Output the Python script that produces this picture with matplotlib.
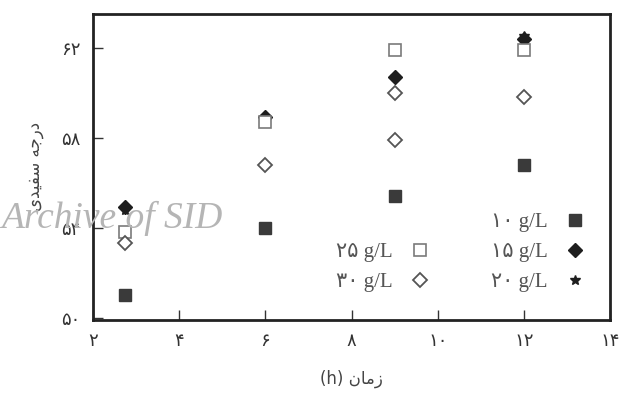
import matplotlib.pyplot as plt
from matplotlib.lines import Line2D

# data (hours vs whiteness)
hours = [2.75, 6, 9, 12]
conc_10 = [51.0, 54.0, 55.4, 56.8]
conc_15 = [54.9, 58.9, 60.7, 62.4]
conc_20 = [54.8, 58.9, 60.7, 62.5]
conc_25 = [53.8, 58.7, 61.9, 61.9]
hours_30 = [2.75, 6, 9, 9, 12]
conc_30 = [53.3, 56.8, 60.0, 57.9, 59.8]

fa_digits = str.maketrans('0123456789', '۰۱۲۳۴۵۶۷۸۹')
def fa(n):
    return str(n).translate(fa_digits)

x_ticks = [2, 4, 6, 8, 10, 12, 14]
y_ticks = [50, 54, 58, 62]

# Arabic script pre-shaped (presentation forms, visual order)
x_label = '(h) \ufee5\ufe8e\ufee3\ufeaf'
y_label = '\ufeef\ufeaa\ufef4\ufed4\ufeb3 \ufeea\ufe9f\ufead\ufea9'

dark = '#3a3a3a'
light = '#7a7a7a'

fig = plt.figure(figsize=(6.2, 3.96), dpi=100)
ax = fig.add_axes([0.150, 0.192, 0.834, 0.773])

ax.plot(hours, conc_10, 's', ms=9, color=dark, mec=dark, label=fa(10) + ' g/L')
ax.plot(hours, conc_15, 'D', ms=7, color='#1e1e1e', mec='#1e1e1e', label=fa(15) + ' g/L')
ax.plot(hours, conc_20, '*', ms=7, color='#1e1e1e', mec='#1e1e1e', label=fa(20) + ' g/L')
ax.plot(hours, conc_25, 's', ms=9, mfc='white', mec=light, mew=1.2, label=fa(25) + ' g/L')
ax.plot(hours_30, conc_30, 'D', ms=7, mfc='white', mec='#555555', mew=1.3, label=fa(30) + ' g/L')

ax.set_xlim(2, 14)
ax.set_ylim(49.9, 63.5)
ax.set_xticks(x_ticks)
ax.set_xticklabels([fa(t) for t in x_ticks])
ax.set_yticks(y_ticks)
ax.set_yticklabels([fa(t) for t in y_ticks])
ax.tick_params(direction='in', length=7, width=1, colors='#333333', labelsize=13, pad=9)
for s in ax.spines.values():
    s.set_linewidth(2)
    s.set_color('#222222')

ax.set_xlabel(x_label, fontsize=12, color='#444444', labelpad=14, family=['DejaVu Sans'])
ax.set_ylabel(y_label, fontsize=12, color='#444444', labelpad=12, family=['DejaVu Sans'])

# legend: two columns, marker on the right, empty first slot on the left
h = ax.get_legend_handles_labels()[0]
blank = Line2D([], [], linestyle='none', marker='none')
handles = [blank, h[3], h[4], h[0], h[1], h[2]]
labels = ['', fa(25) + ' g/L', fa(30) + ' g/L', fa(10) + ' g/L', fa(15) + ' g/L', fa(20) + ' g/L']
leg = ax.legend(handles, labels, ncol=2, markerfirst=False, frameon=False,
                loc='lower right', bbox_to_anchor=(1.0, 0.03), columnspacing=2.6,
                handletextpad=0.5, handlelength=1.6, labelspacing=0.5,
                prop={'family': ['Liberation Serif', 'DejaVu Sans'], 'size': 15})
for t in leg.get_texts():
    t.set_color('#555555')

# scan watermark
fig.text(0.002, 0.425, 'Archive of SID', fontsize=27, style='italic',
         family='Liberation Serif', color='#b5b5b5')

fig.savefig('out.png', dpi=100)
